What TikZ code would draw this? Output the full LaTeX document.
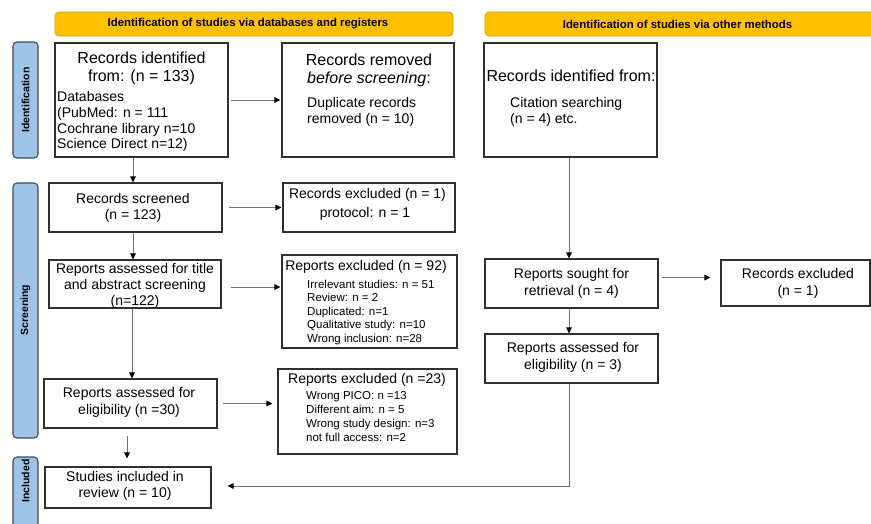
\documentclass[tikz,border=0pt]{standalone}
\usepackage{fontspec}
\setmainfont{Liberation Sans}
\usetikzlibrary{arrows.meta,calc}
\definecolor{hdr}{HTML}{FFC000}
\definecolor{hdrline}{HTML}{D4A000}
\definecolor{side}{HTML}{9DC3E6}
\definecolor{sideline}{HTML}{3F4B5A}
\definecolor{conn}{HTML}{707070}
\definecolor{boxline}{HTML}{303030}
\begin{document}
\begin{tikzpicture}[x=1pt,y=-1pt,
  box/.style={draw=boxline,line width=1.1pt,fill=white,inner sep=0pt},
  header/.style={draw=hdrline,line width=0.8pt,fill=hdr,rounded corners=4pt,inner sep=0pt,
     font=\fontsize{11.4}{13}\selectfont\bfseries},
  sidelbl/.style={draw=sideline,line width=1.1pt,fill=side,rounded corners=4pt,inner sep=0pt},
  sidetxt/.style={rotate=90,font=\fontsize{10.5}{12}\selectfont\bfseries,inner sep=0pt},
  big/.style={font=\fontsize{16}{18}\selectfont,inner sep=0pt,anchor=base},
  mid/.style={font=\fontsize{14}{16.5}\selectfont,inner sep=0pt,anchor=base},
  midl/.style={font=\fontsize{14}{16.5}\selectfont,inner sep=0pt,anchor=base west},
  sml/.style={font=\fontsize{11.5}{13.4}\selectfont,inner sep=0pt,anchor=base west},
  arr/.style={draw=conn,line width=1pt,-{Triangle[length=6pt,width=5.5pt,color=black]}},
  ln/.style={draw=conn,line width=1pt}
]
\useasboundingbox (0,0) rectangle (871,523);

% headers
\node[header,minimum width=398pt,minimum height=24pt] (h1) at (254,24) {};
\node[font=\fontsize{11.4}{13}\selectfont\bfseries,inner sep=0pt] (h1t) at (248,24) {Identification of studies via databases and registers};
\node[header,minimum width=400pt,minimum height=24pt] (h2) at (685,24) {};
\node[font=\fontsize{11.4}{13}\selectfont\bfseries,inner sep=0pt] (h2t) at (677.5,24) {Identification of studies via other methods};

% side labels
\node[sidelbl,minimum width=25pt,minimum height=116pt] (s1) at (25.5,100) {};
\node[sidetxt] (s1t) at (25.5,100) {Identification};
\node[sidelbl,minimum width=25pt,minimum height=255pt] (s2) at (25.5,310.5) {};
\node[sidetxt] (s2t) at (25.5,310) {Screening};
\node[sidelbl,minimum width=25pt,minimum height=83pt] (s3) at (25.5,498.5) {};
\node[sidetxt] (s3t) at (25.5,481) {Included};

% boxes
\node[box,minimum width=173pt,minimum height=114pt] (A) at (141.5,100) {};
\node[big] (A1) at (141.5,63) {Records identified};
\node[big] (A2) at (141.5,81.5) {from: (n = 133)};
\node[midl] (A3) at (57,101) {Databases};
\node[midl] (A4) at (57,117) {(PubMed: n = 111};
\node[midl] (A5) at (57,133) {Cochrane library n=10};
\node[midl] (A6) at (57,148.5) {Science Direct n=12)};

\node[box,minimum width=172pt,minimum height=114pt] (B) at (368,100) {};
\node[big] (B1) at (369,65) {Records removed};
\node[big] (B2) at (369,83) {\itshape before screening\upshape:};
\node[midl] (B3) at (307,107) {Duplicate records};
\node[midl] (B4) at (307,123) {removed (n = 10)};

\node[box,minimum width=173pt,minimum height=114pt] (C) at (570.5,100) {};
\node[big] (C1) at (571,81) {Records identified from:};
\node[midl] (C2) at (510,107) {Citation searching};
\node[midl] (C3) at (510,123) {(n = 4) etc.};

\node[box,minimum width=173pt,minimum height=49pt] (D) at (135.5,207.5) {};
\node[mid] (D1) at (133,203) {Records screened};
\node[mid] (D2) at (133,219) {(n = 123)};

\node[box,minimum width=172pt,minimum height=49pt] (E) at (369,207.5) {};
\node[mid] (E1) at (367.5,198) {Records excluded (n = 1)};
\node[mid] (E2) at (365,217.5) {protocol: n = 1};

\node[box,minimum width=172pt,minimum height=48pt] (F) at (135,284) {};
\node[mid] (F1) at (135,273) {Reports assessed for title};
\node[mid] (F2) at (135,289) {and abstract screening};
\node[mid] (F3) at (135,305) {(n=122)};

\node[box,minimum width=175pt,minimum height=93pt] (G) at (369.5,301.5) {};
\node[mid] (G0) at (366,270) {Reports excluded (n = 92)};
\node[sml] (G1) at (307,288) {Irrelevant studies: n = 51};
\node[sml] (G2) at (307,301.5) {Review: n = 2};
\node[sml] (G3) at (307,315) {Duplicated: n=1};
\node[sml] (G4) at (307,328.5) {Qualitative study: n=10};
\node[sml] (G5) at (307,342) {Wrong inclusion: n=28};

\node[box,minimum width=173pt,minimum height=49pt] (H) at (130.5,403.5) {};
\node[mid] (H1) at (129,397) {Reports assessed for};
\node[mid] (H2) at (129,414) {eligibility (n =30)};

\node[box,minimum width=179pt,minimum height=85pt] (I) at (367.5,411.5) {};
\node[mid] (I0) at (367,383) {Reports excluded (n =23)};
\node[sml] (I1) at (306,399) {Wrong PICO: n =13};
\node[sml] (I2) at (306,413) {Different aim: n = 5};
\node[sml] (I3) at (306,427) {Wrong study design: n=3};
\node[sml] (I4) at (306,441) {not full access: n=2};

\node[box,minimum width=166pt,minimum height=41pt] (J) at (128,487.5) {};
\node[mid] (J1) at (125,481) {Studies included in};
\node[mid] (J2) at (125,497) {review (n = 10)};

\node[box,minimum width=173pt,minimum height=49pt] (K) at (571.5,283.5) {};
\node[mid] (K1) at (571.5,278) {Reports sought for};
\node[mid] (K2) at (571.5,295) {retrieval (n = 4)};

\node[box,minimum width=149pt,minimum height=46pt] (L) at (795.5,283) {};
\node[mid] (L1) at (798,278) {Records excluded};
\node[mid] (L2) at (798,295) {(n = 1)};

\node[box,minimum width=173pt,minimum height=49pt] (M) at (571.5,358.5) {};
\node[mid] (M1) at (573,352) {Reports assessed for};
\node[mid] (M2) at (573,369) {eligibility (n = 3)};

% connectors
\draw[arr] ([xshift=-8.5pt]A.south) -- ([xshift=-8.5pt]A.south |- D.north);
\draw[arr,shorten <=2pt,shorten >=1pt] (A.east) -- (B.west);
\draw[arr,shorten <=6pt,shorten >=1pt] (D.east) -- (E.west);
\draw[arr] ([xshift=-2.5pt]D.south) -- ([xshift=-2.5pt]D.south |- F.north);
\draw[arr,shorten <=9pt,shorten >=1pt] ([yshift=-3pt]F.east) -- ([yshift=-3pt]F.east -| G.west);
\draw[arr] ([xshift=-3pt]F.south) -- ([xshift=-3pt]F.south |- H.north);
\draw[arr,shorten <=5pt,shorten >=5pt] (H.east) -- (H.east -| I.west);
\draw[arr,shorten <=7pt,shorten >=8pt] ([xshift=-3.5pt]H.south) -- ([xshift=-3.5pt]H.south |- J.north);
\draw[arr] ([xshift=-1.5pt]C.south) -- ([xshift=-1.5pt]C.south |- K.north);
\draw[arr,shorten <=3pt,shorten >=10pt] ([yshift=6pt]K.east) -- ([yshift=6pt]K.east -| L.west);
\draw[arr] ([xshift=-2.5pt]K.south) -- ([xshift=-2.5pt]K.south |- M.north);
\draw[arr,shorten >=16pt] ([xshift=-2.5pt]M.south) |- ([yshift=1.5pt]J.east);
\end{tikzpicture}
\end{document}
